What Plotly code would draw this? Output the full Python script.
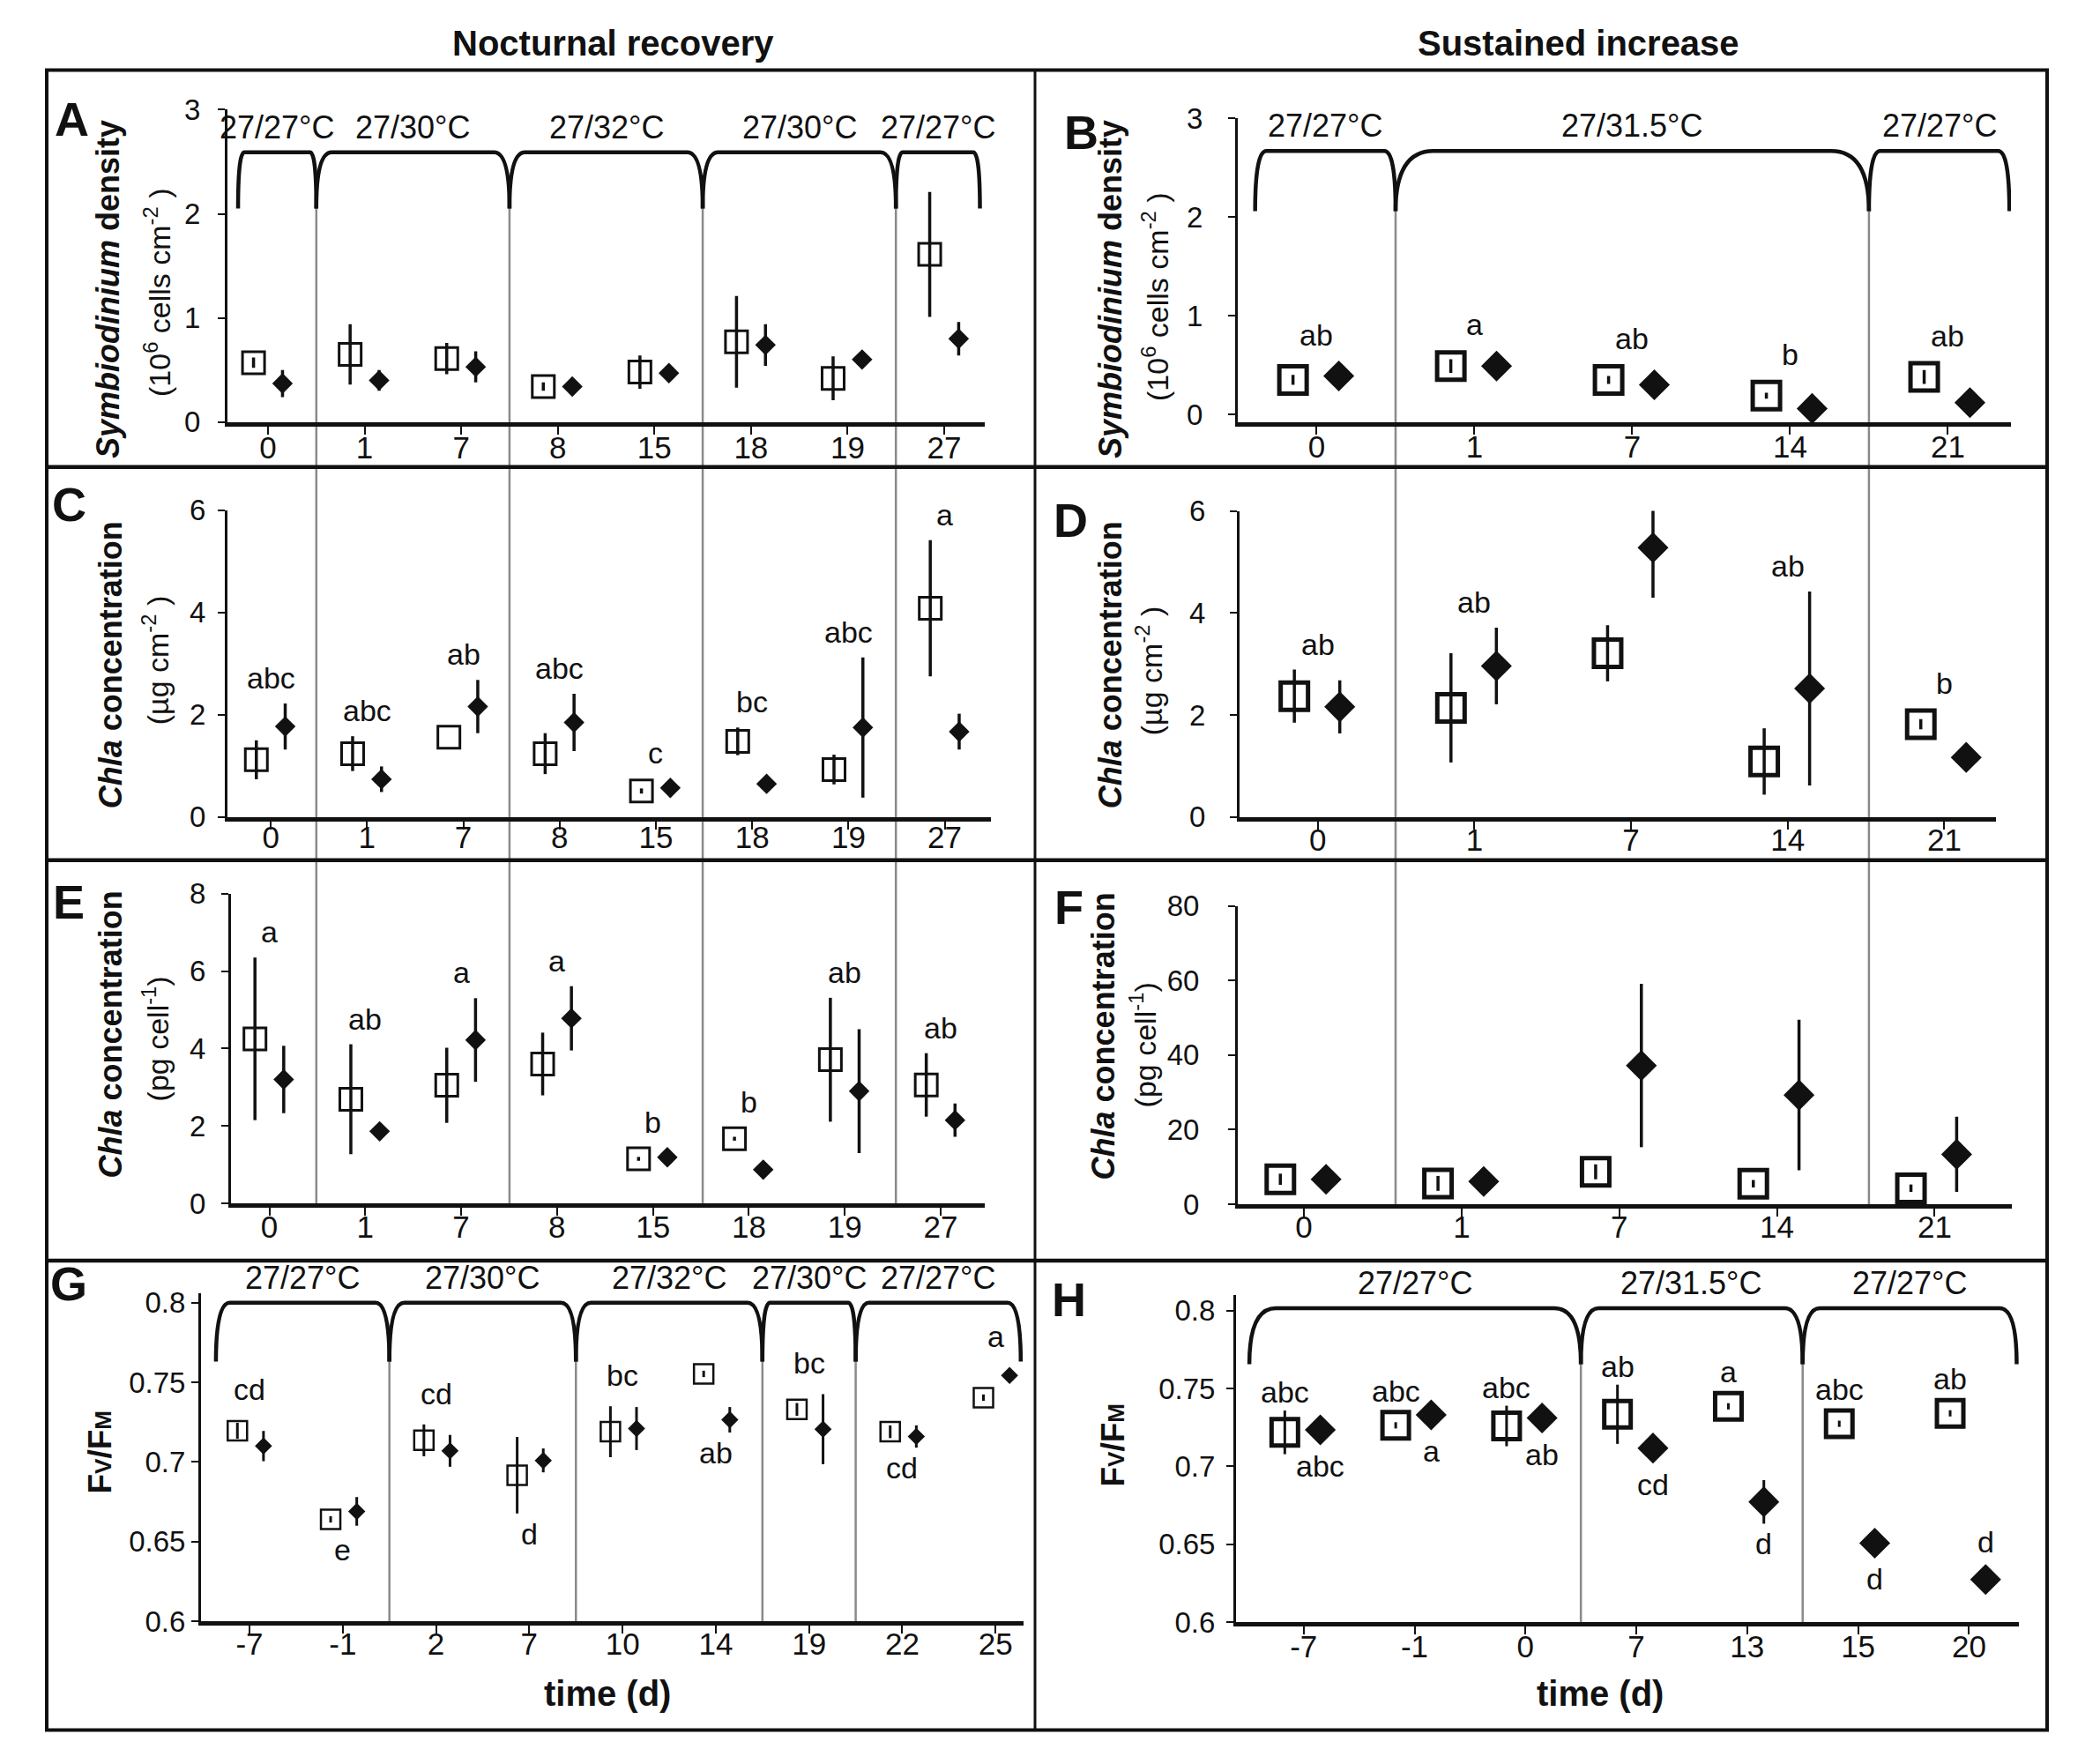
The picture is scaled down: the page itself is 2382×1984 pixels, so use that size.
import plotly.graph_objects as go

W, H = 2382, 1984
FONT = "Liberation Sans, Arial, sans-serif"
INK = "#111111"
GREY = "#8a8a8a"

# ---------------- data ----------------
days_noct = ["0", "1", "7", "8", "15", "18", "19", "27"]
days_sust = ["0", "1", "7", "14", "21"]
days_fv_noct = ["-7", "-1", "2", "7", "10", "14", "19", "22", "25"]
days_fv_sust = ["-7", "-1", "0", "7", "13", "15", "20"]

periods_noct = ["27/27°C", "27/30°C", "27/32°C", "27/30°C", "27/27°C"]
period_len_noct = [1, 2, 2, 2, 1]
periods_sust = ["27/27°C", "27/31.5°C", "27/27°C"]
period_len_sust = [1, 3, 1]
periods_fv_noct = ["27/27°C", "27/30°C", "27/32°C", "27/30°C", "27/27°C"]
period_len_fv_noct = [2, 2, 2, 1, 2]
periods_fv_sust = ["27/27°C", "27/31.5°C", "27/27°C"]
period_len_fv_sust = [3, 2, 2]

# A - Symbiodinium density, nocturnal recovery
sym_noct_sq = [0.57, 0.65, 0.61, 0.34, 0.48, 0.77, 0.42, 1.61]
sym_noct_sq_err = [0.05, 0.29, 0.15, 0.04, 0.16, 0.44, 0.21, 0.60]
sym_noct_di = [0.37, 0.40, 0.53, 0.34, 0.47, 0.74, 0.60, 0.80]
sym_noct_di_err = [0.13, 0.10, 0.15, 0.0, 0.02, 0.20, 0.0, 0.16]

# B - Symbiodinium density, sustained increase
sym_sust_sq = [0.35, 0.49, 0.35, 0.19, 0.38]
sym_sust_sq_err = [0.05, 0.07, 0.04, 0.03, 0.07]
sym_sust_di = [0.39, 0.49, 0.30, 0.06, 0.12]
sym_sust_di_err = [0.0, 0.0, 0.0, 0.0, 0.0]
sym_sust_letters = ["ab", "a", "ab", "b", "ab"]

# C - Chla per area, nocturnal recovery
chl_area_noct_sq = [1.12, 1.24, 1.56, 1.24, 0.51, 1.48, 0.93, 4.08]
chl_area_noct_sq_err = [0.38, 0.34, 0.0, 0.40, 0.05, 0.27, 0.29, 1.33]
chl_area_noct_di = [1.77, 0.74, 2.16, 1.85, 0.57, 0.65, 1.75, 1.67]
chl_area_noct_di_err = [0.45, 0.25, 0.52, 0.56, 0.0, 0.0, 1.37, 0.35]
chl_area_noct_letters = ["abc", "abc", "ab", "abc", "c", "bc", "abc", "a"]

# D - Chla per area, sustained increase
chl_area_sust_sq = [2.37, 2.14, 3.21, 1.09, 1.82]
chl_area_sust_sq_err = [0.52, 1.07, 0.55, 0.65, 0.10]
chl_area_sust_di = [2.16, 2.96, 5.28, 2.52, 1.17]
chl_area_sust_di_err = [0.52, 0.75, 0.98, 1.90, 0.0]
chl_area_sust_letters = ["ab", "ab", "a", "ab", "b"]

# E - Chla per cell, nocturnal recovery
chl_cell_noct_sq = [4.25, 2.69, 3.05, 3.60, 1.15, 1.67, 3.71, 3.06]
chl_cell_noct_sq_err = [2.10, 1.42, 0.97, 0.81, 0.05, 0.05, 1.60, 0.82]
chl_cell_noct_di = [3.20, 1.86, 4.22, 4.78, 1.19, 0.87, 2.90, 2.15]
chl_cell_noct_di_err = [0.87, 0.0, 1.08, 0.83, 0.0, 0.0, 1.60, 0.43]
chl_cell_noct_letters = ["a", "ab", "a", "a", "b", "b", "ab", "ab"]

# F - Chla per cell, sustained increase
chl_cell_sust_sq = [6.7, 5.6, 8.7, 5.5, 4.3]
chl_cell_sust_sq_err = [1.5, 2.0, 2.0, 1.0, 1.0]
chl_cell_sust_di = [6.7, 6.1, 37.2, 29.3, 13.4]
chl_cell_sust_di_err = [0.0, 0.0, 21.9, 20.2, 10.1]

# G - Fv/Fm, nocturnal recovery
fv_noct_sq = [0.7196, 0.664, 0.7136, 0.6917, 0.719, 0.7553, 0.733, 0.719, 0.7404]
fv_noct_sq_err = [0.005, 0.002, 0.010, 0.024, 0.016, 0.002, 0.004, 0.004, 0.002]
fv_noct_di = [0.710, 0.669, 0.707, 0.701, 0.721, 0.7265, 0.7206, 0.716, 0.7543]
fv_noct_di_err = [0.0095, 0.009, 0.010, 0.0075, 0.0135, 0.008, 0.022, 0.007, 0.0]
fv_noct_letters = ["cd", "e", "cd", "d", "bc", "ab", "bc", "cd", "a"]
fv_noct_letter_side = ["above", "below", "above", "below", "above", "below", "above", "below", "above"]

# H - Fv/Fm, sustained increase
fv_sust_sq = [0.7218, 0.7263, 0.7259, 0.7334, 0.7385, 0.7273, 0.734]
fv_sust_sq_err = [0.014, 0.002, 0.013, 0.019, 0.002, 0.002, 0.002]
fv_sust_di = [0.7234, 0.733, 0.731, 0.7117, 0.6772, 0.6507, 0.6274]
fv_sust_di_err = [0.0, 0.0, 0.0, 0.0, 0.014, 0.0, 0.0]
fv_sust_sq_letters = ["abc", "abc", "abc", "ab", "a", "abc", "ab"]
fv_sust_di_letters = ["abc", "a", "ab", "cd", "d", "d", "d"]
fv_sust_di_letter_side = ["below", "below", "below", "below", "below", "below", "above"]


# ---------------- layout helpers ----------------
# the photographed page comes out slightly squeezed vertically, so vertical
# pixel positions read off the reference are mapped back before use
Y_OFF, Y_SCALE = 15.4, 0.9832


def px_x(v):
    return v / W


def px_y(v):
    return min(1.0, max(0.0, 1 - ((v - Y_OFF) / Y_SCALE) / H))


LEFT_STYLE = dict(off=(-0.15, 0.15), sq=25, sq_lw=3, di=18, eb=3.5)
RIGHT_STYLE = dict(off=(-0.15, 0.14), sq=31, sq_lw=5, di=27, eb=3.5)

specs = {
    "A": dict(n=1, x_px=(258, 1117), y_px=(122, 477), xr=[-0.42, 7.42], yr=[0, 3],
              yt=[0, 1, 2, 3], ystand=13, xstand=-15, **LEFT_STYLE),
    "B": dict(n=2, x_px=(1404, 2281), y_px=(132, 477), xr=[-0.5, 4.4], yr=[-0.077, 3],
              yt=[0, 1, 2, 3], ystand=22, xstand=-16, **RIGHT_STYLE),
    "C": dict(n=3, x_px=(258, 1124), y_px=(577, 926), xr=[-0.45, 7.48], yr=[0, 6],
              yt=[0, 2, 4, 6], ystand=7, xstand=-21, **LEFT_STYLE),
    "D": dict(n=4, x_px=(1406, 2264), y_px=(578, 926), xr=[-0.5, 4.33], yr=[0, 6],
              yt=[0, 2, 4, 6], ystand=21, xstand=-18, **RIGHT_STYLE),
    "E": dict(n=5, x_px=(262, 1117), y_px=(1013, 1365), xr=[-0.40, 7.46], yr=[0, 8],
              yt=[0, 2, 4, 6, 8], ystand=11, xstand=-17, **LEFT_STYLE),
    "F": dict(n=6, x_px=(1404, 2282), y_px=(1027, 1366), xr=[-0.42, 4.49], yr=[0, 80],
              yt=[0, 20, 40, 60, 80], ystand=26, xstand=-18, **RIGHT_STYLE),
    "G": dict(n=7, x_px=(228, 1161), y_px=(1467, 1840), xr=[-0.52, 8.3], yr=[0.6, 0.806],
              yt=[0.6, 0.65, 0.7, 0.75, 0.8], ystand=0, xstand=-18,
              off=(-0.13, 0.15), sq=22, sq_lw=2.5, di=15, eb=3),
    "H": dict(n=8, x_px=(1402, 2290), y_px=(1469, 1841), xr=[-0.61, 6.45], yr=[0.6, 0.81],
              yt=[0.6, 0.65, 0.7, 0.75, 0.8], ystand=6, xstand=-16,
              off=(-0.17, 0.15), sq=30, sq_lw=5, di=27, eb=3),
}

fig = go.Figure()
annotations = []
shapes = []


def ax_names(n):
    return ("x" if n == 1 else f"x{n}"), ("y" if n == 1 else f"y{n}")


def ppu(spec):
    return (spec["y_px"][1] - spec["y_px"][0]) / (spec["yr"][1] - spec["yr"][0])


def add_panel(spec, days, sq, sq_err, di, di_err):
    n = spec["n"]
    xa, ya = ax_names(n)
    left, right = spec["x_px"]
    top, bottom = spec["y_px"]
    fig.update_layout(**{
        ("xaxis" if n == 1 else f"xaxis{n}"): dict(
            domain=[px_x(left), px_x(right)], anchor=ya, range=spec["xr"],
            tickmode="array", tickvals=list(range(len(days))), ticktext=days,
            showline=True, linewidth=5, linecolor=INK, ticks="outside", ticklen=9,
            tickwidth=2, tickcolor=INK, showgrid=False, zeroline=False,
            ticklabelstandoff=spec["xstand"], tickfont=dict(size=35, color=INK, family=FONT)),
        ("yaxis" if n == 1 else f"yaxis{n}"): dict(
            domain=[px_y(bottom), px_y(top)], anchor=xa, range=spec["yr"],
            tickmode="array", tickvals=spec["yt"], ticktext=[f"{v:g}" for v in spec["yt"]],
            showline=True, linewidth=3, linecolor=INK, ticks="outside", ticklen=8,
            tickwidth=2, tickcolor=INK, showgrid=False, zeroline=False,
            ticklabelstandoff=spec["ystand"], tickfont=dict(size=33, color=INK, family=FONT)),
    })
    idx = list(range(len(days)))
    o_sq, o_di = spec["off"]
    fig.add_trace(go.Scatter(
        x=[i + o_sq for i in idx], y=sq, mode="markers", xaxis=xa, yaxis=ya,
        cliponaxis=False, hoverinfo="skip",
        marker=dict(symbol="square-open", size=spec["sq"], color=INK,
                    line=dict(width=spec["sq_lw"], color=INK)),
        error_y=dict(type="data", array=sq_err, visible=True, thickness=spec["eb"],
                     width=0, color=INK)))
    fig.add_trace(go.Scatter(
        x=[i + o_di for i in idx], y=di, mode="markers", xaxis=xa, yaxis=ya,
        cliponaxis=False, hoverinfo="skip",
        marker=dict(symbol="diamond", size=spec["di"], color=INK, line=dict(width=0)),
        error_y=dict(type="data", array=di_err, visible=True, thickness=spec["eb"],
                     width=0, color=INK)))


def add_letters(spec, letters, sides, series, xoff=0.0, gap_above=8, gap_below=4):
    xa, ya = ax_names(spec["n"])
    k = ppu(spec)
    for i, (txt, side) in enumerate(zip(letters, sides)):
        if side == "above":
            y = max(v[i] + max(e[i], h / k) for v, e, h in series)
            yanchor, ysh = "bottom", gap_above
        else:
            y = min(v[i] - max(e[i], h / k) for v, e, h in series)
            yanchor, ysh = "top", -gap_below
        annotations.append(dict(x=i + xoff, y=y, xref=xa, yref=ya, text=txt, showarrow=False,
                                yanchor=yanchor, yshift=ysh,
                                font=dict(size=34, color=INK, family=FONT)))


def add_brackets(spec, labels, lens, edges, ytop, ybot):
    xa, ya = ax_names(spec["n"])
    bounds = [edges[0]]
    c = 0
    for L in lens[:-1]:
        c += L
        bounds.append(c - 0.5)
    bounds.append(edges[1])
    for k, lab in enumerate(labels):
        x0, x1 = bounds[k], bounds[k + 1]
        dx = 0.08 * (x1 - x0)
        path = (f"M{x0},{ybot} Q{x0},{ytop} {x0 + dx},{ytop} "
                f"L{x1 - dx},{ytop} Q{x1},{ytop} {x1},{ybot}")
        shapes.append(dict(type="path", path=path, xref=xa, yref=ya,
                           line=dict(color=INK, width=4.5)))
        annotations.append(dict(x=(x0 + x1) / 2, y=ytop, xref=xa, yref=ya, text=lab,
                                showarrow=False, yanchor="bottom", yshift=6,
                                font=dict(size=36, color=INK, family=FONT)))
    return bounds[1:-1]


def data_paper(spec, v):
    # paper y of a data value inside a panel, through the panel's domain
    d0, d1 = px_y(spec["y_px"][1]), px_y(spec["y_px"][0])
    r0, r1 = spec["yr"]
    return d0 + (v - r0) / (r1 - r0) * (d1 - d0)


# ---------------- panels ----------------
sA, sB, sC, sD, sE, sF, sG, sH = (specs[c] for c in "ABCDEFGH")

add_panel(sA, days_noct, sym_noct_sq, sym_noct_sq_err, sym_noct_di, sym_noct_di_err)
add_panel(sB, days_sust, sym_sust_sq, sym_sust_sq_err, sym_sust_di, sym_sust_di_err)
add_panel(sC, days_noct, chl_area_noct_sq, chl_area_noct_sq_err, chl_area_noct_di, chl_area_noct_di_err)
add_panel(sD, days_sust, chl_area_sust_sq, chl_area_sust_sq_err, chl_area_sust_di, chl_area_sust_di_err)
add_panel(sE, days_noct, chl_cell_noct_sq, chl_cell_noct_sq_err, chl_cell_noct_di, chl_cell_noct_di_err)
add_panel(sF, days_sust, chl_cell_sust_sq, chl_cell_sust_sq_err, chl_cell_sust_di, chl_cell_sust_di_err)
add_panel(sG, days_fv_noct, fv_noct_sq, fv_noct_sq_err, fv_noct_di, fv_noct_di_err)
add_panel(sH, days_fv_sust, fv_sust_sq, fv_sust_sq_err, fv_sust_di, fv_sust_di_err)

# significance letters
add_letters(sB, sym_sust_letters, ["above"] * 5,
            [(sym_sust_sq, sym_sust_sq_err, 18), (sym_sust_di, sym_sust_di_err, 18)])
add_letters(sC, chl_area_noct_letters, ["above"] * 8,
            [(chl_area_noct_sq, chl_area_noct_sq_err, 13), (chl_area_noct_di, chl_area_noct_di_err, 11)])
add_letters(sD, chl_area_sust_letters, ["above"] * 5,
            [(chl_area_sust_sq, chl_area_sust_sq_err, 18), (chl_area_sust_di, chl_area_sust_di_err, 18)])
add_letters(sE, chl_cell_noct_letters, ["above"] * 8,
            [(chl_cell_noct_sq, chl_cell_noct_sq_err, 13), (chl_cell_noct_di, chl_cell_noct_di_err, 11)])
add_letters(sG, fv_noct_letters, fv_noct_letter_side,
            [(fv_noct_sq, fv_noct_sq_err, 12), (fv_noct_di, fv_noct_di_err, 9)],
            gap_above=14, gap_below=2)
add_letters(sH, fv_sust_sq_letters, ["above"] * 7, [(fv_sust_sq, fv_sust_sq_err, 18)],
            xoff=sH["off"][0], gap_above=0)
add_letters(sH, fv_sust_di_letters, fv_sust_di_letter_side, [(fv_sust_di, fv_sust_di_err, 18)],
            xoff=sH["off"][1], gap_above=4, gap_below=2)

# temperature brackets
sepA = add_brackets(sA, periods_noct, period_len_noct, (-0.31, 7.37), 2.59, 2.05)
sepB = add_brackets(sB, periods_sust, period_len_sust, (-0.39, 4.39), 2.67, 2.06)
sepG = add_brackets(sG, periods_fv_noct, period_len_fv_noct, (-0.36, 8.27), 0.8, 0.763)
sepH = add_brackets(sH, periods_fv_sust, period_len_fv_sust, (-0.49, 6.43), 0.8014, 0.7655)

# grey period separators
for b in sepA:
    shapes.append(dict(type="line", xref="x", yref="paper", x0=b, x1=b,
                       y0=px_y(sE["y_px"][1]), y1=data_paper(sA, 2.05),
                       line=dict(color=GREY, width=2.5), layer="below"))
for b in sepB:
    shapes.append(dict(type="line", xref="x2", yref="paper", x0=b, x1=b,
                       y0=px_y(sF["y_px"][1]), y1=data_paper(sB, 2.06),
                       line=dict(color=GREY, width=2.5), layer="below"))
for b in sepG:
    shapes.append(dict(type="line", xref="x7", yref="y7", x0=b, x1=b, y0=0.6, y1=0.763,
                       line=dict(color=GREY, width=2.5), layer="below"))
for b in sepH:
    shapes.append(dict(type="line", xref="x8", yref="y8", x0=b, x1=b, y0=0.6, y1=0.7655,
                       line=dict(color=GREY, width=2.5), layer="below"))

# frame
frame_bottom = max(px_y(1970), 2.5 / H)
shapes.append(dict(type="rect", xref="paper", yref="paper", x0=px_x(53), x1=px_x(2322),
                   y0=frame_bottom, y1=px_y(77), line=dict(color=INK, width=4)))
for yy in (528, 975, 1430):
    shapes.append(dict(type="line", xref="paper", yref="paper", x0=px_x(53), x1=px_x(2322),
                       y0=px_y(yy), y1=px_y(yy), line=dict(color=INK, width=4.5)))
shapes.append(dict(type="line", xref="paper", yref="paper", x0=px_x(1174), x1=px_x(1174),
                   y0=frame_bottom, y1=px_y(77), line=dict(color=INK, width=3)))


def paper_text(x, y, text, size, bold=False, angle=0):
    annotations.append(dict(x=px_x(x), y=px_y(y), xref="paper", yref="paper",
                            text=f"<b>{text}</b>" if bold else text, showarrow=False,
                            textangle=angle, xanchor="center", yanchor="middle",
                            font=dict(size=size, color=INK, family=FONT)))


# column titles
paper_text(695, 46, "Nocturnal recovery", 40, bold=True)
paper_text(1790, 46, "Sustained increase", 40, bold=True)

# panel letters
for lab, (x, y) in zip("ABCDEFGH", [(81, 133), (1226, 148), (78, 570), (1214, 588),
                                     (78, 1022), (1212, 1028), (78, 1456), (1212, 1474)]):
    paper_text(x, y, lab, 54, bold=True)

# y axis titles
sym_t = "<i>Symbiodinium</i> density"
chl_t = "<i>Chla</i> concentration"
paper_text(122, 326, sym_t, 36, bold=True, angle=-90)
paper_text(178, 330, "(10<sup>6</sup> cells cm<sup>-2</sup> )", 34, angle=-90)
paper_text(1259, 326, sym_t, 36, bold=True, angle=-90)
paper_text(1311, 335, "(10<sup>6</sup> cells cm<sup>-2</sup> )", 34, angle=-90)
paper_text(125, 753, chl_t, 36, bold=True, angle=-90)
paper_text(176, 748, "(µg cm<sup>-2</sup> )", 34, angle=-90)
paper_text(1259, 753, chl_t, 36, bold=True, angle=-90)
paper_text(1303, 760, "(µg cm<sup>-2</sup> )", 34, angle=-90)
paper_text(125, 1173, chl_t, 36, bold=True, angle=-90)
paper_text(176, 1178, "(pg cell<sup>-1</sup>)", 34, angle=-90)
paper_text(1251, 1175, chl_t, 36, bold=True, angle=-90)
paper_text(1296, 1185, "(pg cell<sup>-1</sup>)", 34, angle=-90)
fvfm = "F<span style='font-size:26px'>V</span>/F<span style='font-size:26px'>M</span>"
paper_text(114, 1648, fvfm, 37, bold=True, angle=-90)
paper_text(1263, 1639, fvfm, 37, bold=True, angle=-90)

# x axis titles
paper_text(689, 1922, "time (d)", 40, bold=True)
paper_text(1815, 1922, "time (d)", 40, bold=True)

fig.update_layout(
    width=W, height=H, margin=dict(l=0, r=0, t=0, b=0),
    paper_bgcolor="white", plot_bgcolor="rgba(0,0,0,0)",
    showlegend=False, font=dict(family=FONT, color=INK),
    annotations=annotations, shapes=shapes,
)

fig.write_html("out.html", config={"displayModeBar": False},
               post_script="document.body.style.margin='0';")
